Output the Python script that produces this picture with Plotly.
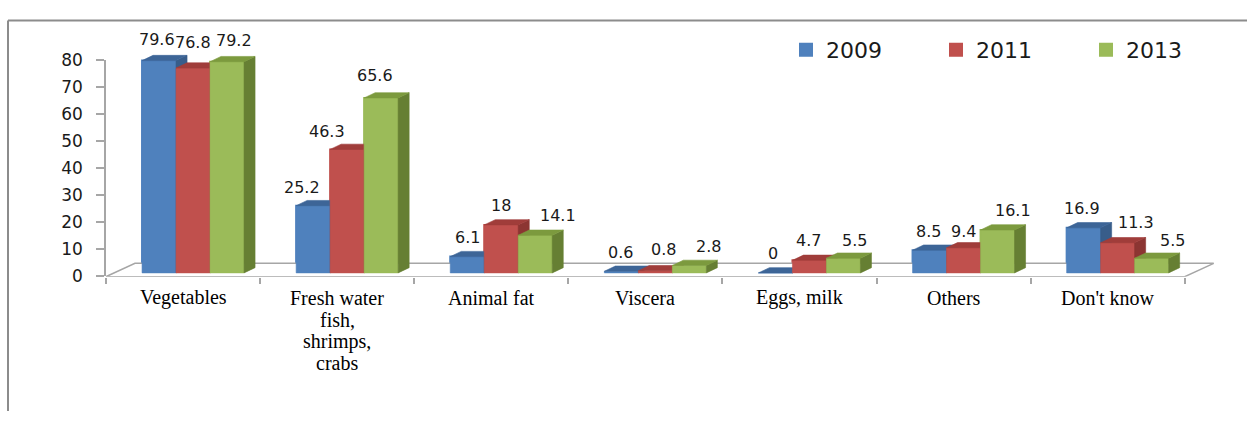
import plotly.graph_objects as go

# ---- data -------------------------------------------------------------
categories = [
    "Vegetables",
    "Fresh water<br>fish,<br>shrimps,<br>crabs",
    "Animal fat",
    "Viscera",
    "Eggs, milk",
    "Others",
    "Don't know",
]
series_names = ["2009", "2011", "2013"]
values_2009 = [79.6, 25.2, 6.1, 0.6, 0, 8.5, 16.9]
values_2011 = [76.8, 46.3, 18, 0.8, 4.7, 9.4, 11.3]
values_2013 = [79.2, 65.6, 14.1, 2.8, 5.5, 16.1, 5.5]
y_ticks = [0, 10, 20, 30, 40, 50, 60, 70, 80]

# ---- styling ----------------------------------------------------------
W, H = 1247, 421
X0_PX = 106.0        # left end of the category axis
CAT_PX = 154.1       # width of one category slot
Y0_PX = 276.0        # pixel row of value 0 for the bars
PPU = 2.8            # pixels per value unit
X_MAX = 7.25
Y_MIN = -4.0 / PPU
Y_MAX = 85.0

BAR_PX = 34.0
GROUP_SHIFT_PX = 10.0
DEPTH_DX = 11.0 / CAT_PX
DEPTH_DY = 5.5 / PPU
FLOOR_DX = 29.0 / CAT_PX
FLOOR_DY = 14.0 / PPU

face_colors = {
    "2009": dict(front="#4F81BD", top="#3D6597", side="#385D8A"),
    "2011": dict(front="#C0504D", top="#A03D3A", side="#8C3532"),
    "2013": dict(front="#9BBB59", top="#7C9A3E", side="#667F33"),
}

# label placement (px): horizontal nudge and height above the bar value
label_dx = {
    "2009": [-2, -11, 0, -1, -2, -1, -2],
    "2011": [0, -20, 0, 8, -1, 0, 18],
    "2013": [7, -6, 23, 19, 11, 15, 21],
}
label_dy = {
    "2009": [21, 18.5, 19, 19, 19.5, 19, 19.7],
    "2011": [25.5, 18, 19, 21, 20, 16.7, 20.4],
    "2013": [21, 22, 19.5, 19, 18, 19, 18],
}

series_values = {"2009": values_2009, "2011": values_2011, "2013": values_2013}

bw = BAR_PX / CAT_PX
shift = GROUP_SHIFT_PX / CAT_PX


def bar_centers(si):
    return [k + 0.5 + shift + (si - 1) * bw for k in range(len(categories))]


def poly_trace(polys, color):
    xs, ys = [], []
    for p in polys:
        for (px, py) in p + [p[0]]:
            xs.append(px)
            ys.append(py)
        xs.append(None)
        ys.append(None)
    return go.Scatter(
        x=xs, y=ys, mode="lines", fill="toself", fillcolor=color,
        line=dict(color=color, width=0.6), showlegend=False,
        hoverinfo="skip", connectgaps=False,
    )


fig = go.Figure()

# legend / base bars (covered by the 3-D faces drawn on top)
for si, name in enumerate(series_names):
    col = face_colors[name]["front"]
    fig.add_trace(go.Bar(
        x=bar_centers(si), y=series_values[name], width=bw, name=name,
        marker=dict(color=col, line=dict(width=2, color=col)),
        hoverinfo="skip",
    ))

# floor of the 3-D chart
n = len(categories)
floor = [(0, Y_MIN), (n, Y_MIN), (n + FLOOR_DX, Y_MIN + FLOOR_DY), (FLOOR_DX, Y_MIN + FLOOR_DY)]
fig.add_trace(go.Scatter(
    x=[p[0] for p in floor] + [floor[0][0]],
    y=[p[1] for p in floor] + [floor[0][1]],
    mode="lines", fill="toself", fillcolor="white",
    line=dict(color="#A6A6A6", width=1.5), showlegend=False, hoverinfo="skip",
))

# 3-D bar faces, series by series so later bars overlap earlier ones
for si, name in enumerate(series_names):
    fronts, tops, sides = [], [], []
    for xc, h in zip(bar_centers(si), series_values[name]):
        xl, xr = xc - bw / 2, xc + bw / 2
        fronts.append([(xl, 0), (xr, 0), (xr, h), (xl, h)])
        sides.append([(xr, 0), (xr + DEPTH_DX, DEPTH_DY), (xr + DEPTH_DX, h + DEPTH_DY), (xr, h)])
        tops.append([(xl, h), (xr, h), (xr + DEPTH_DX, h + DEPTH_DY), (xl + DEPTH_DX, h + DEPTH_DY)])
    fig.add_trace(poly_trace(fronts, face_colors[name]["front"]))
    fig.add_trace(poly_trace(sides, face_colors[name]["side"]))
    fig.add_trace(poly_trace(tops, face_colors[name]["top"]))

# helper trace for the value axis
fig.add_trace(go.Scatter(x=[0], y=[0], xaxis="x2", yaxis="y2", mode="markers",
                         marker=dict(opacity=0), showlegend=False, hoverinfo="skip"))

annotations = []
# value labels
for si, name in enumerate(series_names):
    for k, (xc, h) in enumerate(zip(bar_centers(si), series_values[name])):
        annotations.append(dict(
            x=xc, y=h, xref="x", yref="y", text=f"{h:g}", showarrow=False,
            xanchor="center", yanchor="middle",
            xshift=label_dx[name][k], yshift=label_dy[name][k],
            font=dict(family="DejaVu Sans", size=16, color="#1a1a1a"),
        ))

# category labels
for k, cat in enumerate(categories):
    for j, line in enumerate(cat.split("<br>")):
        annotations.append(dict(
            x=k + 0.5, y=1 - (302 + 23 * j) / H, xref="x", yref="paper",
            text=line, showarrow=False, xanchor="center", yanchor="middle",
            font=dict(family="Liberation Serif", size=20, color="#000000"),
        ))

x_dom = [X0_PX / W, (X0_PX + X_MAX * CAT_PX) / W]
y_dom = [(H - (Y0_PX - Y_MIN * PPU)) / H, (H - (Y0_PX - Y_MAX * PPU)) / H]
y2_dom = [(H - 279) / H, (H - 53) / H]

fig.update_layout(
    width=W, height=H,
    margin=dict(l=0, r=0, t=0, b=0),
    paper_bgcolor="white", plot_bgcolor="rgba(0,0,0,0)",
    barmode="overlay",
    showlegend=True,
    xaxis=dict(domain=x_dom, range=[0, X_MAX], showline=False, showgrid=False,
               zeroline=False, tickvals=list(range(n + 1)), ticks="outside",
               ticklen=6, tickcolor="#A6A6A6", tickwidth=1.5,
               showticklabels=False, fixedrange=True),
    yaxis=dict(domain=y_dom, range=[Y_MIN, Y_MAX], visible=False, fixedrange=True),
    xaxis2=dict(domain=x_dom, range=[0, X_MAX], anchor="y2", visible=False),
    yaxis2=dict(domain=y2_dom, range=[0, 80], anchor="x2", tickvals=y_ticks,
                ticks="outside", ticklen=8, tickcolor="#A6A6A6", tickwidth=1.5,
                showline=True, linecolor="#A6A6A6", linewidth=1.5,
                showgrid=False, zeroline=False, ticklabelstandoff=10,
                tickfont=dict(family="DejaVu Sans", size=17, color="#1a1a1a")),
    legend=dict(orientation="h", x=786 / W, xanchor="left", y=1 - 42 / H,
                yanchor="middle", entrywidth=105, entrywidthmode="pixels",
                font=dict(family="DejaVu Sans", size=22, color="#1a1a1a"),
                bgcolor="rgba(0,0,0,0)", traceorder="normal"),
    annotations=annotations,
    shapes=[
        dict(type="line", xref="paper", yref="paper", x0=8 / W, x1=1.0,
             y0=1 - 11 / H, y1=1 - 11 / H, line=dict(color="#8C8C8C", width=2)),
        dict(type="line", xref="paper", yref="paper", x0=8 / W, x1=8 / W,
             y0=1 - 11 / H, y1=0, line=dict(color="#8C8C8C", width=2)),
    ],
)

fig.write_html("out.html", config={"displayModeBar": False})
